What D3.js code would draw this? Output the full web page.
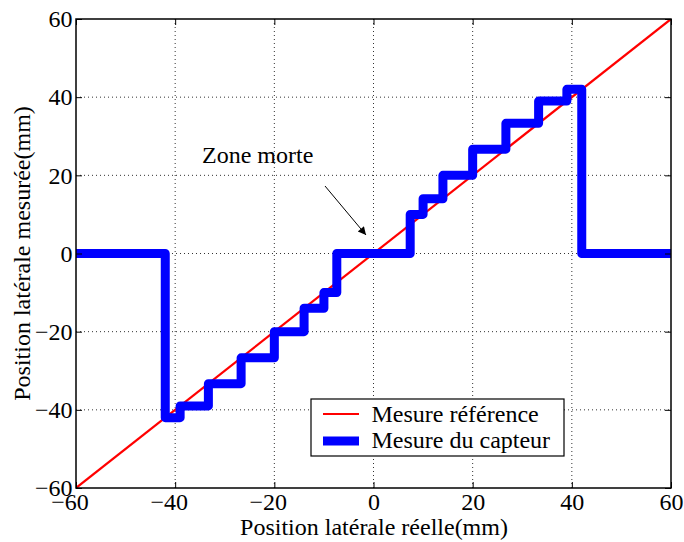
<!DOCTYPE html>
<html><head><meta charset="utf-8">
<script src="https://cdn.jsdelivr.net/npm/d3@7"></script>
<style>body{margin:0;background:#fff}svg{display:block}</style>
</head><body><svg id="c" width="684" height="542" font-family="Liberation Serif"></svg>
<script>
const xTicks = [-60, -40, -20, 0, 20, 40, 60];
const yTicks = [-60, -40, -20, 0, 20, 40, 60];
const refX = [-60, 60];
const refY = [-60, 60];
const sensorX = [-60, -42, -42, -39, -39, -33.3, -33.3, -26.7, -26.7, -20, -20, -14, -14, -10, -10, -7.4, -7.4, 7.4, 7.4, 10, 10, 14, 14, 20, 20, 26.7, 26.7, 33.3, 33.3, 39, 39, 42, 42, 60];
const sensorY = [0, 0, -42, -42, -39, -39, -33.3, -33.3, -26.7, -26.7, -20, -20, -14, -14, -10, -10, 0, 0, 10, 10, 14, 14, 20, 20, 26.7, 26.7, 33.3, 33.3, 39, 39, 42, 42, 0, 0];
const legendLabels = ["Mesure référence", "Mesure du capteur"];
const annotation = "Zone morte";

const FS = 24;
const L = 76, R = 671, T = 19, B = 488;
const svg = d3.select("#c");
const x = d3.scaleLinear().domain([-60, 60]).range([L, R]);
const y = d3.scaleLinear().domain([-60, 60]).range([B, T]);

// grid
const g = svg.append("g");
g.selectAll(".gx").data(xTicks.slice(1, -1)).join("line")
  .attr("x1", d => x(d)).attr("x2", d => x(d)).attr("y1", T).attr("y2", B)
  .attr("stroke", "#333").attr("stroke-width", 1).attr("stroke-dasharray", "1,3");
g.selectAll(".gy").data(yTicks.slice(1, -1)).join("line")
  .attr("y1", d => y(d)).attr("y2", d => y(d)).attr("x1", L).attr("x2", R)
  .attr("stroke", "#333").attr("stroke-width", 1).attr("stroke-dasharray", "1,3");

svg.append("clipPath").attr("id", "clip").append("rect")
  .attr("x", L).attr("y", T).attr("width", R - L).attr("height", B - T);

const line = d3.line().x(d => x(d[0])).y(d => y(d[1]));
const plot = svg.append("g").attr("clip-path", "url(#clip)");
plot.append("path").datum(refX.map((v, i) => [v, refY[i]]))
  .attr("d", line).attr("fill", "none").attr("stroke", "#ff0000").attr("stroke-width", 2.2);
plot.append("path").datum(sensorX.map((v, i) => [v, sensorY[i]]))
  .attr("d", line).attr("fill", "none").attr("stroke", "#0000ff").attr("stroke-width", 9)
  .attr("stroke-linejoin", "round").attr("stroke-linecap", "butt");

// axes
const fmt = d3.format("d");
const axB = d3.axisBottom(x).tickValues(xTicks).tickSize(-6).tickPadding(5).tickFormat(fmt);
const axT = d3.axisTop(x).tickValues(xTicks).tickSize(-6).tickFormat("");
const axL = d3.axisLeft(y).tickValues(yTicks).tickSize(-6).tickPadding(3.5).tickFormat(fmt);
const axR = d3.axisRight(y).tickValues(yTicks).tickSize(-6).tickFormat("");
function style(sel) {
  sel.attr("font-family", "Liberation Serif").attr("font-size", FS);
  sel.selectAll(".tick line").attr("stroke", "#000").attr("stroke-width", 1);
  sel.selectAll("text").attr("fill", "#000").attr("font-family", "Liberation Serif");
}
const gB = svg.append("g").attr("transform", `translate(0,${B})`).call(axB).call(style);
// centre the digits on the tick; the minus sign hangs to the left
gB.selectAll(".tick text").attr("dx", d => d < 0 ? -6.5 : 0);
svg.append("g").attr("transform", `translate(0,${T})`).call(axT).call(style);
svg.append("g").attr("transform", `translate(${L},0)`).call(axL).call(style);
svg.append("g").attr("transform", `translate(${R},0)`).call(axR).call(style);
svg.selectAll(".domain").remove();
svg.append("rect").attr("x", L).attr("y", T).attr("width", R - L).attr("height", B - T)
  .attr("fill", "none").attr("stroke", "#000").attr("stroke-width", 1.5);

// axis titles
svg.append("text").attr("x", 374).attr("y", 535).attr("text-anchor", "middle")
  .attr("font-size", FS).text("Position latérale réelle(mm)");
svg.append("text").attr("transform", `translate(30,${(T + B) / 2}) rotate(-90)`)
  .attr("text-anchor", "middle").attr("font-size", FS).text("Position latérale mesurée(mm)");

// annotation
svg.append("defs").append("marker").attr("id", "ah").attr("viewBox", "0 0 10 10")
  .attr("refX", 10).attr("refY", 5).attr("markerWidth", 10).attr("markerHeight", 8)
  .attr("markerUnits", "userSpaceOnUse").attr("orient", "auto")
  .append("path").attr("d", "M0,0 L10,5 L0,10 z").attr("fill", "#000");
svg.append("text").attr("x", 202).attr("y", 163).attr("font-size", FS).text(annotation);
svg.append("line").attr("x1", 325).attr("y1", 186).attr("x2", 366).attr("y2", 235)
  .attr("stroke", "#000").attr("stroke-width", 1).attr("marker-end", "url(#ah)");

// legend
const lg = svg.append("g");
lg.append("rect").attr("x", 311).attr("y", 399).attr("width", 253).attr("height", 57)
  .attr("fill", "#fff").attr("stroke", "#000").attr("stroke-width", 1.2);
lg.append("line").attr("x1", 323).attr("x2", 359).attr("y1", 414).attr("y2", 414)
  .attr("stroke", "#ff0000").attr("stroke-width", 2.2);
lg.append("line").attr("x1", 323).attr("x2", 359).attr("y1", 441).attr("y2", 441)
  .attr("stroke", "#0000ff").attr("stroke-width", 9);
lg.selectAll(".lt").data(legendLabels).join("text")
  .attr("x", 371.5).attr("y", (d, i) => 421.5 + i * 26.5).attr("font-size", FS).text(d => d);
</script></body></html>
